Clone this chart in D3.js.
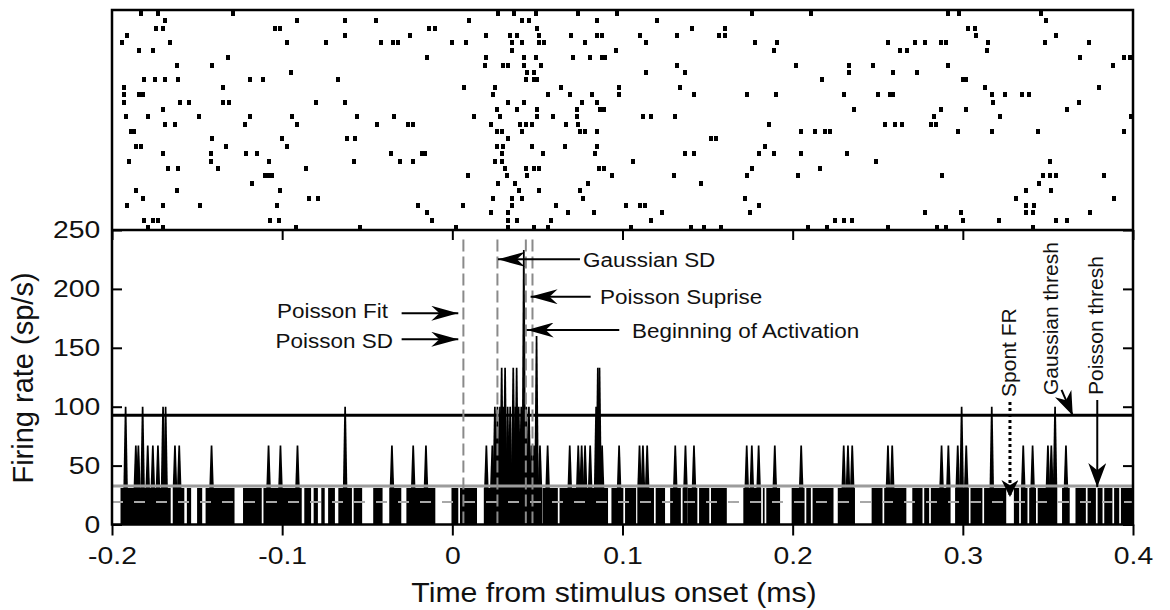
<!DOCTYPE html>
<html>
<head>
  <meta charset="utf-8">
  <title>Raster and PSTH</title>
  <script src="https://cdnjs.cloudflare.com/ajax/libs/d3/7.8.5/d3.min.js"></script>
  <style>
    body { margin: 0; background: #fff; }
    svg { display: block; font-family: "Liberation Sans", Arial, sans-serif; }
  </style>
</head>
<body>
<script>
  // spike times (ms from stimulus onset), one list per trial, top row first
  const trials = [
    [-183, -173, -129, 27, 36, 49, 74, 97, 176, 211, 291, 298, 346],
    [-169, -91, -63, -45, 10, 41, 45, 85, 120, 349],
    [-174, -170, -104, -101, -14, -10, 50, 141, 160, 303, 307],
    [-191, -63, -25, 20, 34, 38, 51, 70, 85, 88, 110, 132, 157, 160, 308, 355],
    [-194, -166, -97, -74, -42, -35, -32, 0, 8, 35, 41, 51, 54, 78, 114, 178, 191, 256, 272, 278, 287, 290, 315, 348, 374],
    [-184, -176, 35, 96, 189, 263, 267, 314],
    [-132, -15, 20, 42, 49, 71, 81, 88, 90, 369, 395, 398],
    [-162, -141, 19, 30, 33, 42, 52, 132, 202, 233, 247, 291, 388],
    [-95, 44, 48, 114, 137, 233, 259, 273],
    [-181, -175, -169, -161, -119, -111, -67, 43, 48, 50, 217, 300, 302],
    [-193, -135, 7, 25, 64, 98, 134, 313, 380],
    [-193, -184, -182, 24, 56, 69, 82, 98, 142, 173, 190, 230, 250, 257, 259, 317, 325, 335, 339],
    [-193, -160, -155, -135, -131, -80, -63, 33, 42, 76, 85, 318, 368],
    [-170, 26, 38, 50, 73, 87, 89, 236, 287, 302, 361],
    [-192, -179, -149, -119, -94, -56, -34, 13, 28, 50, 59, 73, 112, 117, 131, 283, 322, 399],
    [-169, -163, -122, -91, -44, -26, -23, 23, 40, 43, 47, 67, 74, 186, 254, 260, 264, 281, 284],
    [-189, -187, 26, 29, 41, 75, 78, 85, 205, 213, 219, 222, 297, 317, 344, 395],
    [-141, -100, -62, -57, 33, 152, 155],
    [-186, -183, -133, -97, 26, 30, 47, 66, 85, 184],
    [-170, -142, -121, -115, -36, -18, -16, 29, 53, 84, 137, 142, 180, 189, 205, 232],
    [-190, -142, -108, -58, -31, -23, 25, 29, 106, 249, 351],
    [-167, -161, -138, -86, 31, 43, 48, 51, 86, 89, 176, 216],
    [-110, -108, -106, 9, 32, 44, 94, 130, 173, 203, 288, 347, 351, 355, 383],
    [-118, 27, 37, 80, 146, 345],
    [-186, -162, -101, 39, 51, 75, 337, 352],
    [-182, -84, -79, 24, 35, 41, 77, 172, 331, 389],
    [-191, -170, -148, -103, -20, 6, 35, 61, 102, 110, 113, 180, 337, 342],
    [-15, 23, 33, 68, 83, 123, 175, 278, 299, 337, 341, 375],
    [-181, -176, -173, -107, -102, -12, 33, 38, 58, 117, 225, 230, 235, 300, 321, 355, 361],
    [-179, -170, -92, -54, 2, 33, 48, 56, 105, 140, 148, 158, 209, 220, 256, 285, 290, 341]
  ];

  // PSTH: stretches (ms) where the rate sits at the one-spike level
  const baseRuns = [
    [-195, -165.5], [-164, -157.5], [-156, -153.5], [-150, -147], [-145, -128], [-123, -112],
    [-111, -88.5], [-87, -83], [-81.5, -79], [-77, -75], [-73, -69], [-67, -59], [-58, -53],
    [-46.5, -41], [-37, -30], [-27, -10], [-0.5, 3.5], [4.5, 14.5], [18.5, 52], [53, 62], [63, 91.5],
    [93.5, 100.5], [101.5, 108], [109.5, 118.5], [119.5, 125], [128, 134.3], [135.3, 137.3],
    [138.3, 144], [145, 151], [152, 161.3], [171, 181.5], [182.5, 183.5], [184.5, 192.6],
    [199.4, 207], [208, 210.7], [211.7, 224], [226.5, 236.6],
    [246.4, 252.8], [253.8, 266.8], [270.3, 276.3], [277.3, 280.2], [281.2, 292.3], [295.5, 303.5],
    [304.5, 311.5], [312.5, 325.5], [330, 333.1], [334.1, 338], [339, 343], [344, 355],
    [358.3, 362.8], [366.2, 372.3], [373.3, 378.2], [379.2, 382.1], [383.1, 387.9], [388.9, 391.9],
    [392.9, 400]
  ];
  const baseRate = 31;

  // PSTH: bins above the one-spike level [ms, sp/s]
  const peaks = [
    [-192, 100], [-186, 67], [-184.5, 67], [-182, 100], [-179, 67], [-176, 67], [-173, 67],
    [-170, 100], [-168.5, 100], [-163, 67], [-160.5, 67], [-141.5, 67], [-108, 67], [-101, 67],
    [-91, 67], [-63, 100],
    [-35.5, 67], [-23, 67], [-15.5, 67], [20, 67], [23.5, 67], [25, 100], [26.5, 100], [28, 100],
    [29, 133], [30, 100], [31, 133], [32.5, 100], [34, 100], [35.8, 133], [37, 100], [37.8, 133],
    [39, 100], [40.5, 100], [42, 233], [43.5, 100], [45, 100], [46.5, 67], [48, 67], [49.5, 160],
    [51.5, 67], [56, 67], [69, 67], [74, 67], [76, 67], [78, 67], [81, 67], [84.5, 100], [85.5, 133],
    [86.5, 133], [88, 67],
    [98, 67], [110, 67], [112, 67], [114.5, 67], [131, 67], [137, 67], [142, 67], [173, 67], [176, 67],
    [180, 67], [189.5, 67], [205, 67], [230, 67], [232.5, 67], [235, 67],
    [256, 67], [258.5, 67], [287.5, 67], [291.5, 67], [297, 67], [299.3, 100], [302, 67], [317, 100],
    [335.5, 67], [341, 67], [350, 67], [352, 67], [354.2, 100], [360.6, 67]
  ];

  // horizontal reference levels (sp/s)
  const gaussThresh = 92.8;
  const poissonThresh = 32.6;
  const spontFR = 19;

  // onset estimates (ms), vertical dashed lines
  const onsetLines = [6.5, 26.5, 43.2, 47.1];

  const xTicks = [-200, -100, 0, 100, 200, 300, 400];
  const xTickLabels = ["-0.2", "-0.1", "0", "0.1", "0.2", "0.3", "0.4"];
  const yTicks = [0, 50, 100, 150, 200, 250];

  // layout
  const W = 1170, H = 610;
  const left = 112, right = 1133, plotTop = 10, mid = 230, bottom = 524.5;

  const svg = d3.select("body").append("svg")
    .attr("width", W)
    .attr("height", H);

  const x = d3.scaleLinear().domain([-200, 400]).range([left, right]);
  const yRate = d3.scaleLinear().domain([0, 250]).range([bottom, mid]);
  const yTrial = d3.scaleLinear().domain([0, trials.length - 1]).range([13.3, 227.7]);

  // arrow heads
  const defs = svg.append("defs");
  function head(id, len, wid) {
    defs.append("marker")
      .attr("id", id)
      .attr("markerUnits", "userSpaceOnUse")
      .attr("viewBox", `0 ${-wid / 2} ${len} ${wid}`)
      .attr("markerWidth", len)
      .attr("markerHeight", wid)
      .attr("refX", len)
      .attr("refY", 0)
      .attr("orient", "auto")
      .append("path")
      .attr("d", `M0,${-wid / 2}L${len},0L0,${wid / 2}L${len * 0.3},0Z`)
      .attr("fill", "#000");
  }
  head("hLong", 27, 15);
  head("hMid", 24, 18);
  head("hShort", 17, 17);

  // raster
  const spikes = trials.flatMap((row, i) => row.map(t => ({ t: t, i: i })));
  svg.append("g")
    .attr("shape-rendering", "crispEdges")
    .selectAll("rect")
    .data(spikes)
    .join("rect")
    .attr("x", d => Math.round(x(d.t) - 2))
    .attr("y", d => Math.round(yTrial(d.i) - 2.5))
    .attr("width", 4)
    .attr("height", 5)
    .attr("fill", "#000");

  // PSTH base
  svg.append("g")
    .selectAll("rect")
    .data(baseRuns)
    .join("rect")
    .attr("x", d => x(d[0]))
    .attr("width", d => x(d[1]) - x(d[0]))
    .attr("y", yRate(baseRate))
    .attr("height", yRate(0) - yRate(baseRate))
    .attr("fill", "#000");

  // PSTH peaks
  const peakLine = d3.line().x(p => x(p[0])).y(p => yRate(p[1]));
  svg.append("g")
    .selectAll("path")
    .data(peaks)
    .join("path")
    .attr("d", d => peakLine([
      [d[0] - 1.3, 0], [d[0] - 1.3, baseRate], [d[0] - 0.5, d[1]],
      [d[0] + 0.5, d[1]], [d[0] + 1.3, baseRate], [d[0] + 1.3, 0]
    ]) + "Z")
    .attr("fill", "#000");

  // reference levels
  svg.append("line")
    .attr("x1", x(-200)).attr("x2", x(400))
    .attr("y1", yRate(gaussThresh)).attr("y2", yRate(gaussThresh))
    .attr("stroke", "#000").attr("stroke-width", 3);
  svg.append("line")
    .attr("x1", x(-200)).attr("x2", x(400))
    .attr("y1", yRate(poissonThresh)).attr("y2", yRate(poissonThresh))
    .attr("stroke", "#9c9c9c").attr("stroke-width", 3);
  svg.append("line")
    .attr("x1", x(-200)).attr("x2", x(400))
    .attr("y1", yRate(spontFR)).attr("y2", yRate(spontFR))
    .attr("stroke", "#a8a8a8").attr("stroke-width", 2)
    .attr("stroke-dasharray", "11,11");

  // onset lines
  svg.append("g")
    .selectAll("line")
    .data(onsetLines)
    .join("line")
    .attr("x1", d => x(d)).attr("x2", d => x(d))
    .attr("y1", yRate(242)).attr("y2", bottom)
    .attr("stroke", "#8a8a8a").attr("stroke-width", 2)
    .attr("stroke-dasharray", "12,5");

  // frame
  svg.append("rect")
    .attr("x", left).attr("y", plotTop)
    .attr("width", right - left).attr("height", bottom - plotTop)
    .attr("fill", "none").attr("stroke", "#000").attr("stroke-width", 2.5);
  svg.append("line")
    .attr("x1", left).attr("x2", right)
    .attr("y1", mid).attr("y2", mid)
    .attr("stroke", "#000").attr("stroke-width", 2.5);

  // axes
  svg.append("g")
    .attr("transform", `translate(${left},0)`)
    .call(d3.axisLeft(yRate).tickValues(yTicks).tickSizeInner(-10).tickSizeOuter(0).tickPadding(10));
  svg.append("g")
    .attr("transform", `translate(${right},0)`)
    .call(d3.axisRight(yRate).tickValues(yTicks).tickSizeInner(-10).tickSizeOuter(0).tickFormat(""));
  svg.append("g")
    .attr("transform", `translate(0,${bottom})`)
    .call(d3.axisBottom(x).tickValues(xTicks).tickSizeInner(11).tickSizeOuter(0).tickPadding(11)
      .tickFormat((d, i) => xTickLabels[i]));
  svg.append("g")
    .attr("transform", `translate(0,${mid})`)
    .call(d3.axisTop(x).tickValues(xTicks).tickSizeInner(-10).tickSizeOuter(0).tickFormat(""));

  svg.selectAll(".domain").remove();
  svg.selectAll(".tick line").attr("stroke", "#000").attr("stroke-width", 2);
  svg.selectAll(".tick text")
    .attr("font-family", "Liberation Sans, Arial, sans-serif")
    .attr("font-size", 24)
    .attr("fill", "#111")
    .attr("transform", "scale(1.18,1)");

  // axis titles
  svg.append("text")
    .attr("transform", "translate(614,602) scale(1.08,1)")
    .attr("text-anchor", "middle")
    .attr("font-size", 28)
    .attr("fill", "#111")
    .text("Time from stimulus onset (ms)");
  svg.append("text")
    .attr("transform", "translate(33,378) rotate(-90)")
    .attr("text-anchor", "middle")
    .attr("font-size", 29)
    .attr("fill", "#111")
    .text("Firing rate (sp/s)");

  // annotations, positions in data units [ms, sp/s]
  function arrow(t0, r0, t1, r1, marker, dash, width) {
    svg.append("line")
      .attr("x1", x(t0)).attr("y1", yRate(r0))
      .attr("x2", x(t1)).attr("y2", yRate(r1))
      .attr("stroke", "#000").attr("stroke-width", width || 2)
      .attr("stroke-dasharray", dash || null)
      .attr("marker-end", `url(#${marker})`);
  }
  function label(t, r, txt, anchor) {
    svg.append("text")
      .attr("transform", `translate(${x(t)},${yRate(r)}) scale(1.07,1)`)
      .attr("text-anchor", anchor)
      .attr("font-size", 21)
      .attr("fill", "#111")
      .text(txt);
  }
  function vlabel(t, r, txt) {
    svg.append("text")
      .attr("transform", `translate(${x(t)},${yRate(r)}) rotate(-90)`)
      .attr("text-anchor", "start")
      .attr("font-size", 21)
      .attr("fill", "#111")
      .text(txt);
  }

  arrow(-29.8, 179.3, 3.5, 179.3, "hLong");
  arrow(-29.8, 157.2, 3.5, 157.2, "hLong");
  label(-37.8, 175.3, "Poisson Fit", "end");
  label(-34.9, 149.8, "Poisson SD", "end");

  arrow(75, 225.1, 26.8, 225.1, "hLong");
  label(76.8, 218.8, "Gaussian SD", "start");
  arrow(81.3, 193.4, 46, 193.4, "hLong");
  label(86.8, 187.2, "Poisson Suprise", "start");
  arrow(98.1, 165.1, 43.7, 165.1, "hLong");
  label(105.6, 158.3, "Beginning of Activation", "start");

  vlabel(331.5, 108.3, "Spont FR");
  arrow(327.7, 104, 327.7, 23.3, "hShort", "3,3", 3);
  vlabel(355.9, 109.9, "Gaussian thresh");
  arrow(358, 114.2, 364.6, 92.5, "hMid");
  vlabel(382.4, 109.9, "Poisson thresh");
  arrow(379, 105.7, 379, 31.8, "hMid");
</script>
</body>
</html>
